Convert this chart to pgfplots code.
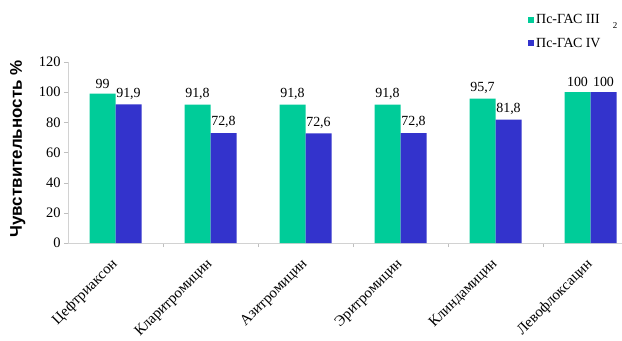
\documentclass[border=0pt]{standalone}
\usepackage{pgfplots}
\pgfplotsset{compat=1.18}
\usepackage{fontspec}
\setmainfont{Liberation Serif}
\newfontfamily\arialfont{Liberation Sans}
\definecolor{cgreen}{RGB}{0,204,153}
\definecolor{cblue}{RGB}{51,51,204}
\begin{document}
\begin{tikzpicture}[x=1bp,y=1bp]
\path[use as bounding box] (0,0) rectangle (622,340);
\begin{axis}[
  at={(68bp,97bp)}, anchor=south west,
  scale only axis, width=570bp, height=181bp,
  ybar=0pt, bar width=26bp,
  xmin=-0.5, xmax=5.5, ymin=0, ymax=120,
  ytick={0,20,...,120},
  xtick={0,1,2,3,4,5},
  xticklabels={Цефтриаксон,Кларитромицин,Азитромицин,Эритромицин,Клиндамицин,Левофлоксацин},
  minor xtick={0.5,1.5,2.5,3.5,4.5},
  major x tick style={draw=none},
  minor x tick style={gray!50},
  minor tick length=4bp,
  major tick length=4bp,
  y tick style={gray!50},
  tick align=outside,
  axis x line*=bottom, axis y line*=left,
  axis line style={gray!35},
  x tick label style={xshift=-5bp, yshift=-9bp, rotate=45, anchor=north east, font=\fontsize{15}{15}\selectfont, inner sep=1pt},
  y tick label style={font=\fontsize{14.5}{14.5}\selectfont},
  /pgf/number format/assume math mode=true,
  /pgf/number format/use comma,
  ylabel={\arialfont\bfseries Чувствительность \%},
  ylabel style={font=\fontsize{17}{17}\selectfont, at={(axis description cs:-0.088,0.52)}, anchor=center, rotate=0},
  nodes near coords,
  every node near coord/.append style={font=\fontsize{14}{14}\selectfont, inner sep=2pt, yshift=3bp},
  legend style={at={(0.807,1.275)}, anchor=north west, draw=none, fill=none,
    font=\fontsize{14}{14}\selectfont, row sep=9bp, inner sep=0pt},
  legend cell align=left,
  legend image code/.code={\fill[#1] (0bp,-3bp) rectangle (6bp,3bp);},
]
\addplot[fill=cgreen, draw=none] coordinates {(0,99) (1,91.8) (2,91.8) (3,91.8) (4,95.7) (5,100)};
\addplot[fill=cblue, draw=none] coordinates {(0,91.9) (1,72.8) (2,72.6) (3,72.8) (4,81.8) (5,100)};
\legend{Пс-ГАС III\hspace{13bp}\raisebox{-5bp}{\fontsize{9}{9}\selectfont 2},Пс-ГАС IV}
\end{axis}
\end{tikzpicture}
\end{document}
